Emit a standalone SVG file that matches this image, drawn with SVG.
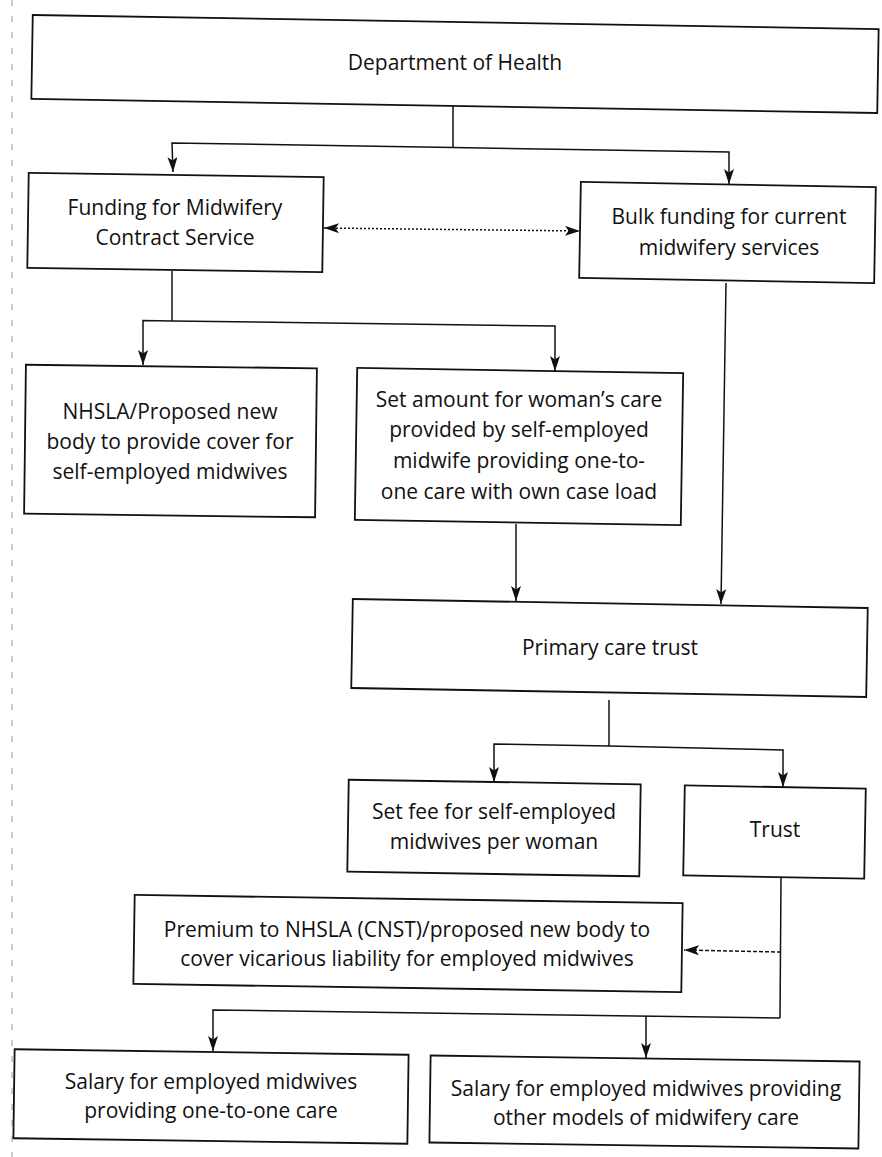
<svg xmlns="http://www.w3.org/2000/svg" width="882" height="1157" viewBox="0 0 882 1157">
  <style>
    .box { fill: #ffffff; stroke: #111111; stroke-width: 1.8; }
    .lbl { font-family: "Open Sans", "Liberation Sans", sans-serif; font-size: 21px; fill: #111111; text-anchor: middle; }
    .conn { fill: none; stroke: #111111; stroke-width: 1.5; }
    .dot { stroke-dasharray: 2 2; }
    .dash { stroke-dasharray: 4 2; }
    .edge { stroke: #9a9a9a; stroke-width: 1; stroke-dasharray: 6 10; fill: none; }
  </style>
  <defs>
    <marker id="arrow" markerUnits="userSpaceOnUse" markerWidth="16" markerHeight="11" refX="15" refY="5" orient="auto-start-reverse">
      <path d="M0,0 L15,5 L0,10 L3.5,5 z" fill="#111111"/>
    </marker>
  </defs>
  <rect x="0" y="0" width="882" height="1157" fill="#ffffff"/>
  <path class="edge" d="M12,0 V1157"/>

  <g id="connectors">
    <path class="conn" d="M453,104 V147.5"/>
    <path class="conn" d="M453,147.5 L172,143 L173,172" marker-end="url(#arrow)"/>
    <path class="conn" d="M453,147.5 L729,152 L729,184" marker-end="url(#arrow)"/>
    <path class="conn dot" d="M324,228 L580,231" marker-start="url(#arrow)" marker-end="url(#arrow)"/>
    <path class="conn" d="M172,271 V321"/>
    <path class="conn" d="M172,321 L143,320.5 L143,365" marker-end="url(#arrow)"/>
    <path class="conn" d="M172,321 L555,326 L555,371" marker-end="url(#arrow)"/>
    <path class="conn" d="M516,524 L516,601" marker-end="url(#arrow)"/>
    <path class="conn" d="M726,283 L721,604" marker-end="url(#arrow)"/>
    <path class="conn" d="M609,700 V746"/>
    <path class="conn" d="M609,746 L494,744 L494,782" marker-end="url(#arrow)"/>
    <path class="conn" d="M609,746 L783,750 L783,787" marker-end="url(#arrow)"/>
    <path class="conn" d="M781,878 L780,1018"/>
    <path class="conn dash" d="M781,952 L684,950" marker-end="url(#arrow)"/>
    <path class="conn" d="M780,1018 L213,1010 L213,1051" marker-end="url(#arrow)"/>
    <path class="conn" d="M646,1016 L646,1058" marker-end="url(#arrow)"/>
  </g>

  <g id="dept-health">
    <rect class="box" x="32" y="22" width="846" height="84" transform="rotate(0.95 455 64)"/>
    <text class="lbl" x="455" y="70">Department of Health</text>
  </g>

  <g id="funding-contract">
    <rect class="box" x="28" y="175" width="295" height="95" transform="rotate(0.85 175.5 222.5)"/>
    <text class="lbl" x="175" y="215">Funding for Midwifery</text>
    <text class="lbl" x="175" y="245">Contract Service</text>
  </g>

  <g id="bulk-funding">
    <rect class="box" x="580" y="184.5" width="295" height="96" transform="rotate(1 727.5 232.5)"/>
    <text class="lbl" x="729" y="224">Bulk funding for current</text>
    <text class="lbl" x="729" y="255">midwifery services</text>
  </g>

  <g id="nhsla">
    <rect class="box" x="25" y="366.5" width="291" height="149" transform="rotate(0.7 170.5 441)"/>
    <text class="lbl" x="170" y="419">NHSLA/Proposed new</text>
    <text class="lbl" x="170" y="449">body to provide cover for</text>
    <text class="lbl" x="170" y="479">self-employed midwives</text>
  </g>

  <g id="set-amount">
    <rect class="box" x="356" y="370.5" width="326" height="152" transform="rotate(0.9 519 446.5)"/>
    <text class="lbl" x="519" y="407">Set amount for woman’s care</text>
    <text class="lbl" x="519" y="437">provided by self-employed</text>
    <text class="lbl" x="519" y="468">midwife providing one-to-</text>
    <text class="lbl" x="519" y="499">one care with own case load</text>
  </g>

  <g id="primary-care-trust">
    <rect class="box" x="352" y="603.5" width="515" height="89" transform="rotate(1 609.5 648)"/>
    <text class="lbl" x="610" y="655">Primary care trust</text>
  </g>

  <g id="set-fee">
    <rect class="box" x="348" y="782" width="292" height="92" transform="rotate(0.9 494 828)"/>
    <text class="lbl" x="494" y="819">Set fee for self-employed</text>
    <text class="lbl" x="494" y="849">midwives per woman</text>
  </g>

  <g id="trust">
    <rect class="box" x="684" y="787" width="181" height="90" transform="rotate(1 774.5 832)"/>
    <text class="lbl" x="775" y="837">Trust</text>
  </g>

  <g id="premium">
    <rect class="box" x="134" y="899" width="548" height="89" transform="rotate(0.85 408 943.5)"/>
    <text class="lbl" x="407" y="937">Premium to NHSLA (CNST)/proposed new body to</text>
    <text class="lbl" x="407" y="966">cover vicarious liability for employed midwives</text>
  </g>

  <g id="salary-one-to-one">
    <rect class="box" x="14" y="1052" width="394" height="89" transform="rotate(0.8 211 1096)"/>
    <text class="lbl" x="211" y="1089">Salary for employed midwives</text>
    <text class="lbl" x="211" y="1118">providing one-to-one care</text>
  </g>

  <g id="salary-other">
    <rect class="box" x="430" y="1058.5" width="429" height="87" transform="rotate(0.8 644.5 1102)"/>
    <text class="lbl" x="646" y="1096">Salary for employed midwives providing</text>
    <text class="lbl" x="646" y="1125">other models of midwifery care</text>
  </g>
</svg>
